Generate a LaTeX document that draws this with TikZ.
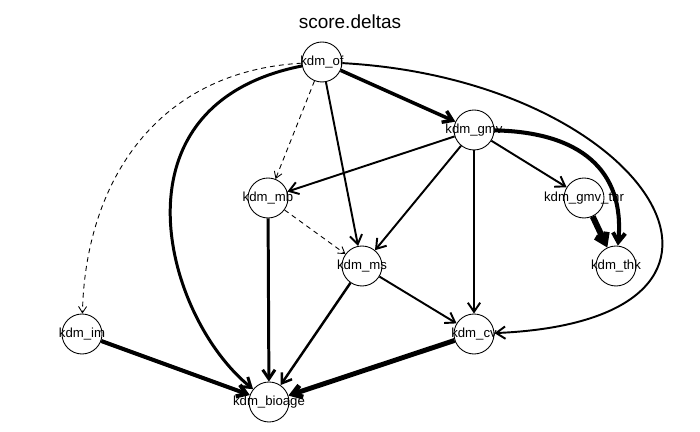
\documentclass[tikz,border=0pt]{standalone}
\usepackage{fontspec}
\setmainfont{Liberation Sans}
\usetikzlibrary{arrows.meta}

\begin{document}
\begin{tikzpicture}[
    vtx/.style={draw, circle, fill=white, minimum size=0.8cm, inner sep=0pt, line width=0.5pt},
    lbl/.style={font=\fontsize{7.5}{9}\selectfont, inner sep=0pt},
    dep/.style={-{Straight Barb[length=5.2pt, width=7pt]}, line width=#1},
    weak/.style={-{Straight Barb[length=3.6pt, width=4.6pt]}, line width=0.5pt, dash pattern=on 2.8pt off 2.3pt},
]
    \useasboundingbox (0, 0) rectangle (14, 8.64);

    \node[font=\fontsize{10.8}{13}\selectfont] (title) at (7, 8.2) {score.deltas};

    \node[vtx] (of) at (6.44, 7.40) {};
    \node[vtx] (gmv) at (9.48, 6.04) {};
    \node[vtx] (mb) at (5.36, 4.68) {};
    \node[vtx] (thr) at (11.68, 4.68) {};
    \node[vtx] (ms) at (7.24, 3.32) {};
    \node[vtx] (thk) at (12.32, 3.32) {};
    \node[vtx] (im) at (1.64, 1.96) {};
    \node[vtx] (cv) at (9.48, 1.96) {};
    \node[vtx] (bioage) at (5.38, 0.60) {};

    % of
    \draw[dep=2pt] (of) -- (gmv);
    \draw[weak] (of) -- (mb);
    \draw[dep=1.1pt] (of) -- (ms);
    \draw[weak] (of) .. controls (3.00, 7.20) and (1.70, 4.84) .. (im);
    \draw[dep=1.7pt] (of) .. controls (2.10, 6.54) and (3.30, 2.28) .. (bioage);
    \draw[dep=1.1pt] (of) .. controls (13.00, 7.04) and (16.00, 2.24) .. (cv);

    % gmv
    \draw[dep=1.1pt] (gmv) -- (mb);
    \draw[dep=1.1pt] (gmv) -- (ms);
    \draw[dep=1.1pt] (gmv) -- (cv);
    \draw[dep=1.1pt] (gmv) -- (thr);
    \draw[dep=2.3pt] (gmv) .. controls (11.60, 6.00) and (12.50, 5.24) .. (thk);

    % thr, mb, ms
    \draw[dep=3.4pt] (thr) -- (thk);
    \draw[dep=1.7pt] (mb) -- (bioage);
    \draw[weak] (mb) -- (ms);
    \draw[dep=1.4pt] (ms) -- (bioage);
    \draw[dep=1.1pt] (ms) -- (cv);

    % im, cv
    \draw[dep=2.3pt] (im) -- (bioage);
    \draw[dep=2.8pt] (cv) -- (bioage);

    \node[lbl] (of-t) at (of) {kdm\_of};
    \node[lbl] (gmv-t) at (gmv) {kdm\_gmv};
    \node[lbl] (mb-t) at (mb) {kdm\_mb};
    \node[lbl] (thr-t) at (thr) {kdm\_gmv\_thr};
    \node[lbl] (ms-t) at (ms) {kdm\_ms};
    \node[lbl] (thk-t) at (thk) {kdm\_thk};
    \node[lbl] (im-t) at (im) {kdm\_im};
    \node[lbl] (cv-t) at (cv) {kdm\_cv};
    \node[lbl] (bioage-t) at (bioage) {kdm\_bioage};
\end{tikzpicture}
\end{document}
